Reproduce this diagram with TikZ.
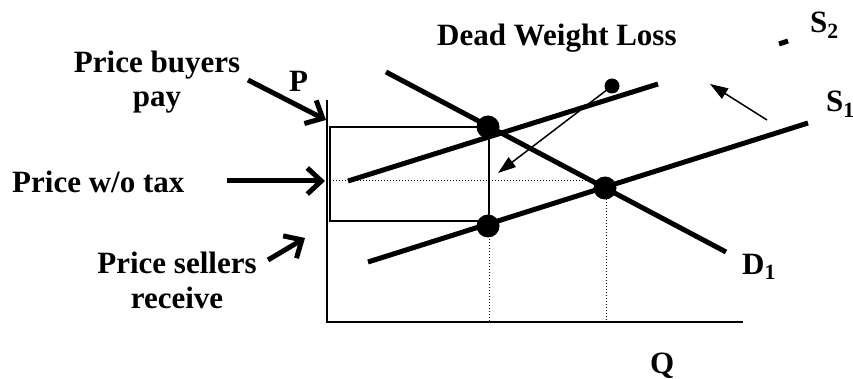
\documentclass[tikz,border=0pt]{standalone}
\usepackage{fontspec}
\setmainfont{Liberation Serif}
\usetikzlibrary{arrows.meta}
\begin{document}
\begin{tikzpicture}[x=1pt,y=-1pt,
  lbl/.style={font=\bfseries\fontsize{31}{34.5}\selectfont, inner sep=0pt, align=center},
  curve/.style={line width=5pt},
  axisline/.style={line width=2pt},
  guide/.style={line width=1pt, dotted},
  thickarrow/.style={line width=5pt, -{Straight Barb[length=14pt,width=26pt]}},
  thinarrow/.style={line width=1.5pt, -{Triangle[length=18pt,width=12pt]}},
  bigdot/.style={circle, fill=black, minimum size=23pt, inner sep=0pt},
  smalldot/.style={circle, fill=black, minimum size=15pt, inner sep=0pt}]
\useasboundingbox (0,0) rectangle (853,379);

% axes
\coordinate (Otop) at (327,100);
\coordinate (O) at (327,322);
\coordinate (Qend) at (743,322);
\draw[axisline] (Otop) -- (O) -- (Qend);

% tax rectangle
\draw[line width=1.5pt] (330,127) rectangle (489,221);

% guides
\coordinate (g1a) at (330,181);
\coordinate (g1b) at (605,181);
\draw[guide] (g1a) -- (g1b);
\coordinate (g2a) at (489,221);
\coordinate (g2b) at (489,322);
\draw[guide] (g2a) -- (g2b);
\coordinate (g3a) at (606,190);
\coordinate (g3b) at (606,322);
\draw[guide] (g3a) -- (g3b);

% curves
\coordinate (Da) at (386,72);
\coordinate (Db) at (726,252);
\draw[curve] (Da) -- (Db);
\coordinate (S1a) at (368,262);
\coordinate (S1b) at (808,123);
\draw[curve] (S1a) -- (S1b);
\coordinate (S2a) at (348,181);
\coordinate (S2b) at (658,84);
\draw[curve] (S2a) -- (S2b);
\coordinate (S2c) at (779,44);
\coordinate (S2d) at (788,41);
\draw[curve] (S2c) -- (S2d);

% points
\node[bigdot] (A) at (488,127) {};
\node[bigdot] (B) at (488,226) {};
\node[bigdot] (E) at (605,188) {};
\node[smalldot] (C) at (612,86) {};

% thin arrows
\coordinate (dwl) at (498,173);
\draw[thinarrow] (C.center) -- (dwl);
\coordinate (shA) at (767,120);
\coordinate (shB) at (710,84);
\draw[thinarrow] (shA) -- (shB);

% labels
\node[lbl, anchor=base] (buy) at (157,107) {Price buyers\\pay};
\node[lbl, anchor=base west] (wo) at (12,193) {Price w/o tax};
\node[lbl, anchor=base] (sell) at (177,308) {Price sellers\\receive};
\node[lbl, anchor=base west] (P) at (289,92) {P};
\node[lbl, anchor=base west] (Q) at (650,373) {Q};
\node[lbl, anchor=base west] (DWL) at (437,46) {Dead Weight Loss};
\node[lbl, anchor=base west] (S2) at (810,33) {S\textsubscript{2}};
\node[lbl, anchor=base west] (S1) at (826,112) {S\textsubscript{1}};
\node[lbl, anchor=base west] (D1) at (742,274) {D\textsubscript{1}};

% thick arrows
\coordinate (buyT) at (248,80);
\coordinate (buyH) at (326,120);
\draw[thickarrow] (buyT) -- (buyH);
\coordinate (woT) at (227,181);
\coordinate (woH) at (325,181);
\draw[thickarrow] (woT) -- (woH);
\coordinate (sellT) at (268,260);
\coordinate (sellH) at (305,238);
\draw[thickarrow] (sellT) -- (sellH);
\end{tikzpicture}
\end{document}
